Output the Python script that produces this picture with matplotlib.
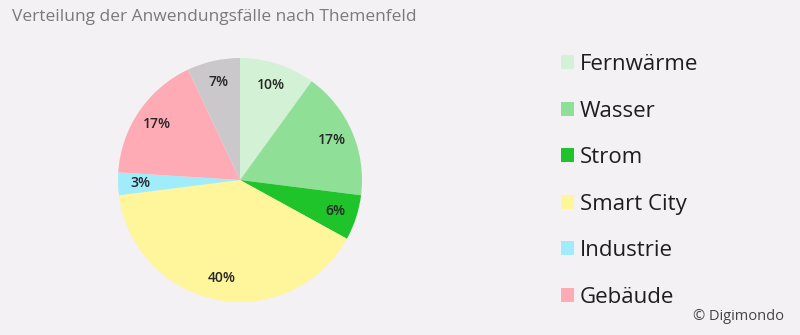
import matplotlib.pyplot as plt
from matplotlib.patches import Patch

plt.rcParams['font.family'] = ['Open Sans', 'DejaVu Sans']

categories = ['Fernwärme', 'Wasser', 'Strom', 'Smart City', 'Industrie', 'Gebäude', 'Sonstige']
shares = [10, 17, 6, 40, 3, 17, 7]
colors = ['#d3f2d5', '#8fe096', '#1fc42b', '#fff59b', '#a1ecfa', '#ffabb6', '#cac8cb']
in_legend = 6  # the grey remainder has no legend entry

bg = '#f3f1f4'
fig = plt.figure(figsize=(8, 3.35), dpi=100, facecolor=bg)

# pie centred at about (240, 180) px with radius ~122 px
ax = fig.add_axes([118 / 800, 33 / 335, 244 / 800, 244 / 335])
ax.set_facecolor(bg)
wedges, texts, autotexts = ax.pie(
    shares, colors=colors, startangle=90, counterclock=False,
    autopct=lambda p: f'{round(p)}%', pctdistance=0.82, radius=1,
    textprops=dict(fontsize=10, color='#262626', fontweight='semibold'),
    wedgeprops=dict(linewidth=0))
ax.set_xlim(-1, 1)
ax.set_ylim(-1, 1)
ax.axis('off')

fig.text(12 / 800, 1 - 17 / 335, 'Verteilung der Anwendungsfälle nach Themenfeld',
         fontsize=12.5, color='#7a7a7a', va='center', ha='left')

handles = [Patch(facecolor=c, edgecolor='none') for c in colors[:in_legend]]
fig.legend(handles, categories[:in_legend], loc='upper left',
           bbox_to_anchor=(540.5 / 800, 1 - 34 / 335), frameon=False,
           fontsize=16, handlelength=0.585, handleheight=0.585, handletextpad=0.27,
           labelspacing=1.15, labelcolor='#1e1e1e')

fig.text(784 / 800, 1 - 316 / 335, '© Digimondo', fontsize=10.5, color='#444444',
         ha='right', va='center')

fig.savefig('out.png', dpi=100, facecolor=bg)
